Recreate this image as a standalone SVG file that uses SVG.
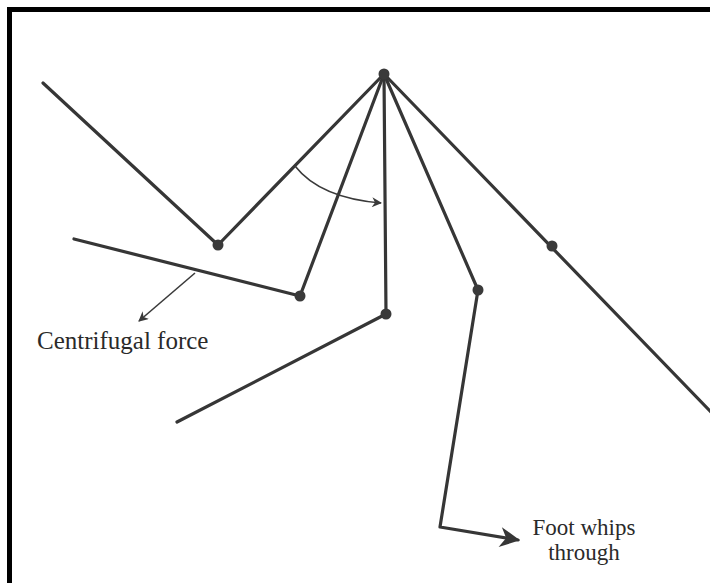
<svg xmlns="http://www.w3.org/2000/svg" width="710" height="583" viewBox="0 0 710 583">
<style>
.limb{fill:none;stroke:#363636;stroke-width:3.2;stroke-linecap:round;stroke-linejoin:round}
.thin{fill:none;stroke:#3a3a3a;stroke-width:1.6}
.joint{fill:#3a3a3a}
.lbl{font-family:"Liberation Serif",serif;font-size:25px;fill:#2a2a2a}
</style>
<defs>
<marker id="ah" viewBox="0 0 10 10" refX="9" refY="5" markerWidth="11" markerHeight="10" markerUnits="userSpaceOnUse" orient="auto">
<path d="M0,0 L10,5 L0,10 L3,5 Z" fill="#3a3a3a"/>
</marker>
<marker id="ahbig" viewBox="0 0 10 10" refX="9" refY="5" markerWidth="28" markerHeight="20" markerUnits="userSpaceOnUse" orient="auto">
<path d="M0,0 L10,5 L0,10 L3,5 Z" fill="#363636"/>
</marker>
</defs>
<rect x="0" y="0" width="710" height="583" fill="#fff"/>
<path d="M9.5,583 V9.5 H710" fill="none" stroke="#000" stroke-width="5"/>
<g id="connectors">
<polyline id="leg1" class="limb" points="43,83 218,245 384,74"/>
<polyline id="leg2" class="limb" points="74,239 300,296 384,74"/>
<polyline id="leg3" class="limb" points="177,422 386,314 384,74"/>
<polyline id="leg4" class="limb" points="384,74 478,290 440,527 518,540" marker-end="url(#ahbig)"/>
<line id="leg5" class="limb" x1="384" y1="74" x2="712" y2="413"/>
<path id="swing" class="thin" d="M295,166 Q320,198 381,203" marker-end="url(#ah)"/>
<line id="cf" class="thin" x1="195" y1="273" x2="139" y2="321" marker-end="url(#ah)"/>
</g>
<g id="hip"><circle class="joint" cx="384" cy="74" r="5.5"/></g>
<g id="knee1"><circle class="joint" cx="218" cy="245" r="5.5"/></g>
<g id="knee2"><circle class="joint" cx="300" cy="296" r="5.5"/></g>
<g id="knee3"><circle class="joint" cx="386" cy="314" r="5.5"/></g>
<g id="knee4"><circle class="joint" cx="478" cy="290" r="5.5"/></g>
<g id="knee5"><circle class="joint" cx="552" cy="246" r="5.5"/></g>
<g id="label-cf"><text class="lbl" x="37" y="349">Centrifugal force</text></g>
<g id="label-foot"><text class="lbl" x="584" y="535" text-anchor="middle" style="font-size:23px">Foot whips</text><text class="lbl" x="584" y="560" text-anchor="middle" style="font-size:23px">through</text></g>
</svg>
